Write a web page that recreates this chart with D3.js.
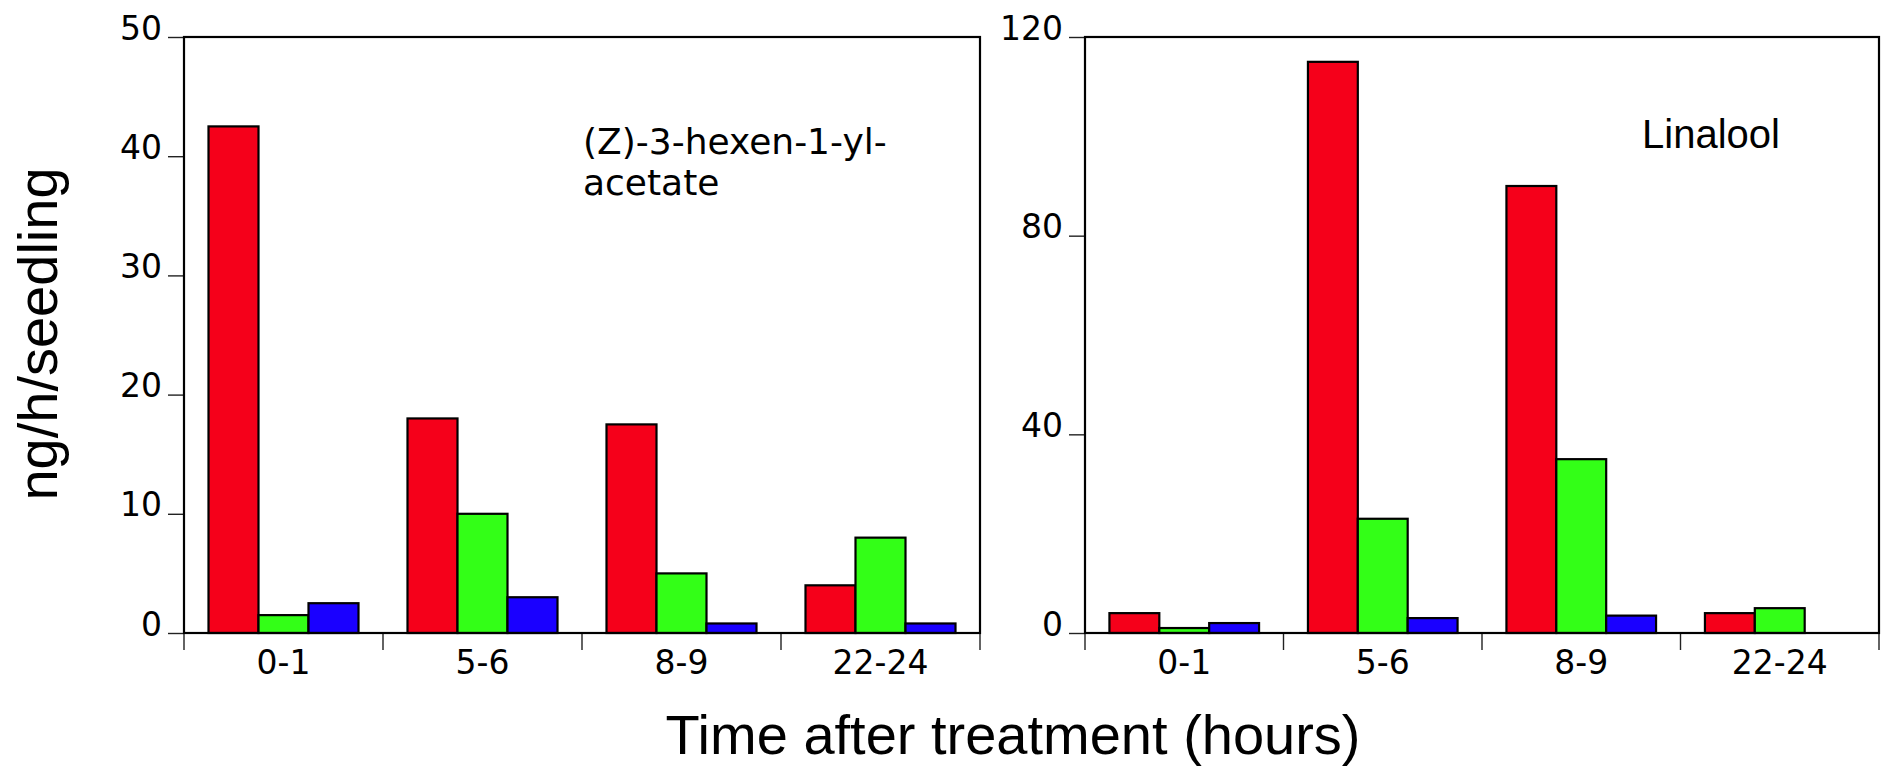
<!DOCTYPE html>
<html>
<head>
<meta charset="utf-8">
<script src="https://cdn.jsdelivr.net/npm/d3@7"></script>
<style>
  html, body { margin: 0; padding: 0; background: #fff; }
  svg { display: block; }
</style>
</head>
<body>
<svg id="chart" width="1881" height="767"></svg>
<script>
// Sampling intervals after treatment (hours)
const categories = ["0-1", "5-6", "8-9", "22-24"];
const seriesKeys = ["first", "second", "third"];

// (Z)-3-hexen-1-yl-acetate emission, ng/h/seedling
const hexenylFirst  = [42.5, 18, 17.5, 4];
const hexenylSecond = [1.5, 10, 5, 8];
const hexenylThird  = [2.5, 3, 0.8, 0.8];
const hexenylTicks  = [0, 10, 20, 30, 40, 50];

// Linalool emission, ng/h/seedling
const linaloolFirst  = [4, 115, 90, 4];
const linaloolSecond = [1, 23, 35, 5];
const linaloolThird  = [2, 3, 3.5, 0];
const linaloolTicks  = [0, 40, 80, 120];

const seriesColors = ["#f5001a", "#33ff17", "#1a00ff"];

const svg = d3.select("#chart");
const plotTop = 37, plotBottom = 633;

function drawPanel(opts) {
  const g = svg.append("g");
  const x0 = d3.scaleBand().domain(categories).range([opts.left, opts.right]).padding(0);
  const x1 = d3.scaleBand().domain(seriesKeys).range([0, x0.bandwidth()])
    .paddingInner(0).paddingOuter(0.49);
  const y = d3.scaleLinear().domain([0, d3.max(opts.ticks)]).range([plotBottom, plotTop]);

  const rows = categories.map((c, i) => ({
    cat: c,
    vals: seriesKeys.map((k, j) => ({ key: k, color: seriesColors[j], v: opts.series[j][i] }))
  }));

  // bars
  g.selectAll("g.group").data(rows).join("g")
    .attr("class", "group")
    .attr("transform", d => `translate(${x0(d.cat)},0)`)
    .selectAll("rect").data(d => d.vals).join("rect")
      .attr("x", d => x1(d.key))
      .attr("width", x1.bandwidth())
      .attr("y", d => y(d.v))
      .attr("height", d => y(0) - y(d.v))
      .attr("fill", d => d.color)
      .attr("stroke", "#000")
      .attr("stroke-width", 2.2);

  // y axis ticks and labels
  const yAxis = d3.axisLeft(y).tickValues(opts.ticks).tickSize(16).tickPadding(6).tickSizeOuter(0);
  const ya = g.append("g").attr("transform", `translate(${opts.left},0)`).call(yAxis);
  ya.select(".domain").remove();
  ya.selectAll(".tick line").attr("stroke", "#222").attr("stroke-width", 1.4);
  ya.selectAll(".tick text")
    .attr("dy", 2)
    .attr("font-family", "DejaVu Sans, Verdana, sans-serif")
    .attr("font-size", 33)
    .attr("fill", "#000");

  // x axis category labels
  const xAxis = d3.axisBottom(x0).tickSize(0).tickSizeOuter(0);
  const xa = g.append("g").attr("transform", `translate(0,${plotBottom})`).call(xAxis);
  xa.select(".domain").remove();
  xa.selectAll(".tick text")
    .attr("y", 41).attr("dy", 0)
    .attr("font-family", "DejaVu Sans, Verdana, sans-serif")
    .attr("font-size", 33)
    .attr("fill", "#000");

  // boundary ticks between categories
  const edges = categories.map(c => x0(c)).concat([x0.range()[1]]);
  g.selectAll("line.edge").data(edges).join("line")
    .attr("class", "edge")
    .attr("x1", d => d).attr("x2", d => d)
    .attr("y1", plotBottom).attr("y2", plotBottom + 17)
    .attr("stroke", "#222").attr("stroke-width", 1.4);

  // frame
  g.append("rect")
    .attr("x", opts.left).attr("y", plotTop)
    .attr("width", opts.right - opts.left).attr("height", plotBottom - plotTop)
    .attr("fill", "none").attr("stroke", "#000").attr("stroke-width", 2.2);

  return g;
}

const leftPanel = drawPanel({
  left: 184, right: 980,
  series: [hexenylFirst, hexenylSecond, hexenylThird],
  ticks: hexenylTicks
});
leftPanel.append("text")
  .attr("font-family", "DejaVu Sans, Verdana, sans-serif")
  .attr("font-size", 36)
  .attr("fill", "#000")
  .selectAll("tspan").data(["(Z)-3-hexen-1-yl-", "acetate"]).join("tspan")
    .attr("x", 583)
    .attr("y", (d, i) => 154 + i * 41)
    .text(d => d);

const rightPanel = drawPanel({
  left: 1085, right: 1879,
  series: [linaloolFirst, linaloolSecond, linaloolThird],
  ticks: linaloolTicks
});
rightPanel.append("text")
  .attr("x", 1642).attr("y", 148)
  .attr("font-family", "Liberation Sans, Arial, sans-serif")
  .attr("font-size", 40)
  .attr("fill", "#000")
  .text("Linalool");

// axis titles
svg.append("text")
  .attr("transform", "translate(57,334) rotate(-90)")
  .attr("text-anchor", "middle")
  .attr("font-family", "Liberation Sans, Arial, sans-serif")
  .attr("font-size", 56)
  .attr("fill", "#000")
  .text("ng/h/seedling");

svg.append("text")
  .attr("x", 1013).attr("y", 754)
  .attr("text-anchor", "middle")
  .attr("font-family", "Liberation Sans, Arial, sans-serif")
  .attr("font-size", 56)
  .attr("fill", "#000")
  .text("Time after treatment (hours)");
</script>
</body>
</html>
